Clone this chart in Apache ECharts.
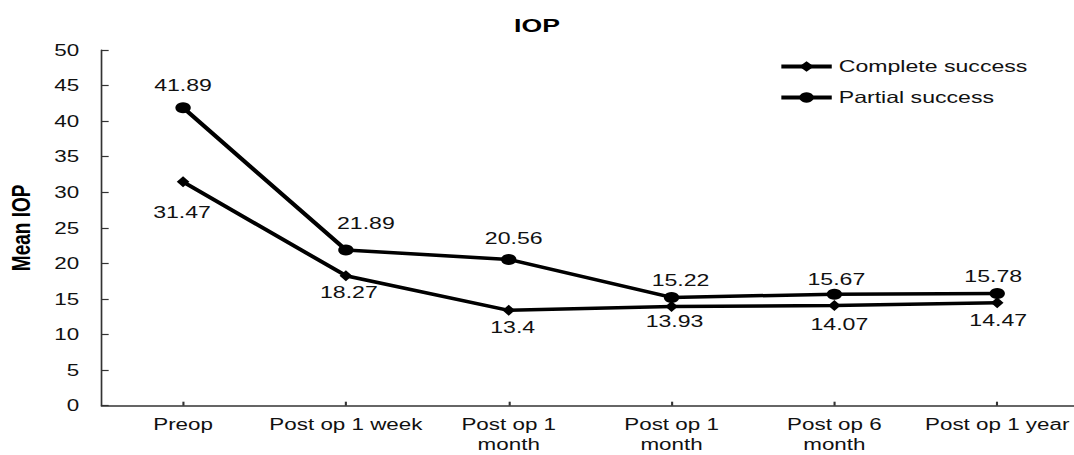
<!DOCTYPE html>
<html>
<head>
<meta charset="utf-8">
<script src="https://cdn.jsdelivr.net/npm/echarts@6/dist/echarts.min.js"></script>
<style>
  html, body { margin: 0; padding: 0; background: #fff; overflow: hidden; }
  #wrap { width: 1074px; height: 455px; overflow: hidden; }
  #chart { width: 767px; height: 455px; transform: scaleX(1.40026); transform-origin: 0 0; }
</style>
</head>
<body>
<div id="wrap"><div id="chart"></div></div>
<script>
// ---- data ----
const categories = ['Preop', 'Post op 1 week', 'Post op 1\nmonth', 'Post op 1\nmonth', 'Post op 6\nmonth', 'Post op 1 year'];
const completeSuccess = [31.47, 18.27, 13.4, 13.93, 14.07, 14.47];
const partialSuccess = [41.89, 21.89, 20.56, 15.22, 15.67, 15.78];
const seriesNames = ['Complete success', 'Partial success'];
const yMin = 0, yMax = 50, yStep = 5;

// ---- layout (label nudges, in on-screen px) ----
const S = 1074 / 767;
const completeLabelShift = [[-1, 30], [3, 17], [4, 17], [3, 15], [5, 19], [1, 17]];
const partialLabelShift = [[0, -22], [20, -27], [5, -21], [9, -17], [2, -15], [-4, -17]];

const FONT = 'Liberation Sans, Arial, sans-serif';

function withLabels(values, shifts) {
  return values.map((v, i) => ({
    value: v,
    label: { offset: [shifts[i][0] / S, shifts[i][1]] }
  }));
}

const chart = echarts.init(document.getElementById('chart'), null, { renderer: 'svg' });
chart.setOption({
  animation: false,
  backgroundColor: '#fff',
  title: {
    text: 'IOP',
    left: 'center',
    top: 11,
    textStyle: { fontFamily: FONT, fontSize: 19, fontWeight: 'bold', color: '#000' }
  },
  legend: {
    orient: 'vertical',
    left: 551,
    top: 53,
    itemGap: 14,
    itemWidth: 36,
    itemHeight: 13,
    data: seriesNames,
    lineStyle: { width: 4 },
    textStyle: { fontFamily: FONT, fontSize: 16.5, color: '#111' }
  },
  grid: { left: 72.6, top: 50, width: 697.7, height: 355.7, containLabel: false, outerBoundsMode: 'none' },
  xAxis: {
    type: 'category',
    data: categories,
    boundaryGap: true,
    axisLine: { lineStyle: { color: '#333', width: 1.5 } },
    axisTick: { show: true, inside: true, alignWithLabel: true, length: 4, lineStyle: { color: '#333', width: 1.5 } },
    axisLabel: { interval: 0, margin: 9, fontFamily: FONT, fontSize: 16, lineHeight: 20, color: '#111' },
    splitLine: { show: false }
  },
  yAxis: {
    type: 'value',
    min: yMin, max: yMax, interval: yStep,
    name: 'Mean IOP',
    nameLocation: 'middle',
    nameGap: 48,
    nameTextStyle: { fontFamily: FONT, fontSize: 19, fontWeight: 'bold', color: '#000' },
    axisLine: { show: true, lineStyle: { color: '#333', width: 1.2 } },
    axisTick: { show: true, inside: true, length: 5, lineStyle: { color: '#333', width: 1.2 } },
    axisLabel: { margin: 16, fontFamily: FONT, fontSize: 16, color: '#111' },
    splitLine: { show: false }
  },
  series: [
    {
      name: seriesNames[0],
      type: 'line',
      data: withLabels(completeSuccess, completeLabelShift),
      symbol: 'diamond',
      symbolSize: [9, 11],
      color: '#000',
      lineStyle: { color: '#000', width: 3.5 },
      itemStyle: { color: '#000' },
      label: { show: true, position: 'inside', fontFamily: FONT, fontSize: 16.5, color: '#111' },
      z: 3
    },
    {
      name: seriesNames[1],
      type: 'line',
      data: withLabels(partialSuccess, partialLabelShift),
      symbol: 'circle',
      symbolSize: 11,
      color: '#000',
      lineStyle: { color: '#000', width: 3.5 },
      itemStyle: { color: '#000' },
      label: { show: true, position: 'inside', fontFamily: FONT, fontSize: 16.5, color: '#111' },
      z: 3
    }
  ]
});
</script>
</body>
</html>
